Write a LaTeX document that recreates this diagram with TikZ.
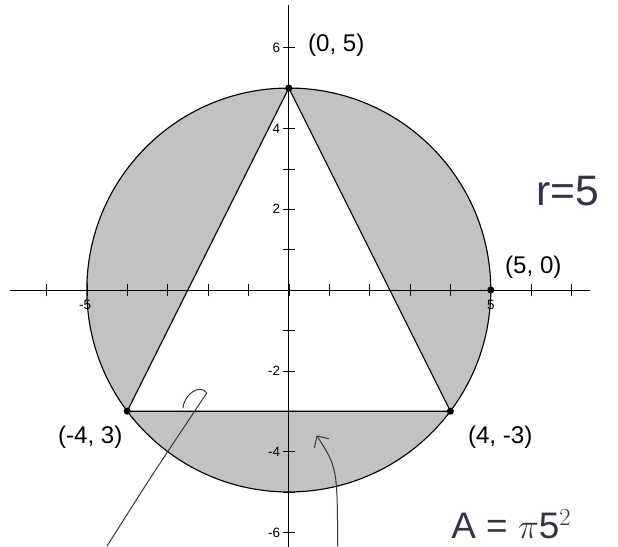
\documentclass[tikz,border=0pt]{standalone}
\usepackage{fontspec}
\setmainfont{Liberation Sans}
\usetikzlibrary{arrows.meta, positioning}
\definecolor{diskgray}{HTML}{C2C2C2}
\definecolor{pen}{HTML}{33334A}

\begin{document}
\begin{tikzpicture}[
    pt/.style={circle, fill=black, inner sep=0pt, minimum size=5pt},
    coordlbl/.style={font=\fontsize{17}{17}\selectfont, inner sep=0pt, anchor=west},
    ticklbl/.style={font=\fontsize{9.5}{9.5}\selectfont, inner sep=1pt},
    hand/.style={draw=pen, line width=0.7pt, line cap=round, line join=round},
]
    \useasboundingbox (-7.15,-6.34) rectangle (8.15,7.18);

    % shaded disc, triangle cut out
    \coordinate (top) at (0,5);
    \coordinate (left) at (-4,-3);
    \coordinate (right) at (4,-3);
    \coordinate (east) at (5,0);
    \fill[diskgray] (0,0) circle (5);
    \draw[line width=0.8pt] (0,0) circle (5);
    \filldraw[fill=white, line width=0.8pt] (top) -- (left) -- (right) -- cycle;

    % axes and ticks
    \draw[line width=0.7pt] (-6.9,0) -- (7.45,0);
    \draw[line width=0.7pt] (0,-6.4) -- (0,7.05);
    \foreach \x in {-6,...,7}
        \draw (\x,-0.15) -- (\x,0.15);
    \foreach \y in {-6,...,6}
        \draw (-0.15,\y) -- (0.15,\y);
    \foreach \y in {-6,-4,-2,2,4,6}
        \node[ticklbl, anchor=east] at (-0.17,\y) {\y};
    \node[ticklbl, anchor=north east] at (-4.85,-0.2) {-5};
    \node[ticklbl, anchor=north] at (5,-0.2) {5};

    % vertices
    \foreach \p in {top, left, right, east}
        \node[pt] at (\p) {};
    \node[coordlbl] (ltop) at (0.47,6.06) {(0, 5)};
    \node[coordlbl] (least) at (5.35,0.57) {(5, 0)};
    \node[coordlbl] (lleft) at (-5.72,-3.64) {(-4, 3)};
    \node[coordlbl] (lright) at (4.43,-3.64) {(4, -3)};

    % pen notes
    \node[font=\fontsize{30}{30}\selectfont, text=pen, anchor=west] (rad) at (6.0,2.45) {r=5};
    \node[font=\fontsize{26}{26}\selectfont, text=pen, anchor=west] (area) at (3.9,-5.8) {A = $\pi$5$^2$};
    \coordinate (h1) at (-4.5,-6.34);
    \coordinate (h2) at (-2.03,-2.55);
    \coordinate (h3) at (-2.62,-2.92);
    \draw[hand] (h1) .. controls (-3.4,-4.6) .. (h2) .. controls (-2.2,-2.3) and (-2.6,-2.6) .. (h3);
    \coordinate (a1) at (1.21,-6.34);
    \coordinate (a2) at (0.69,-3.6);
    \draw[hand, -{Straight Barb[length=6pt]}] (a1) .. controls (1.2,-4.4) .. (a2);
\end{tikzpicture}
\end{document}
